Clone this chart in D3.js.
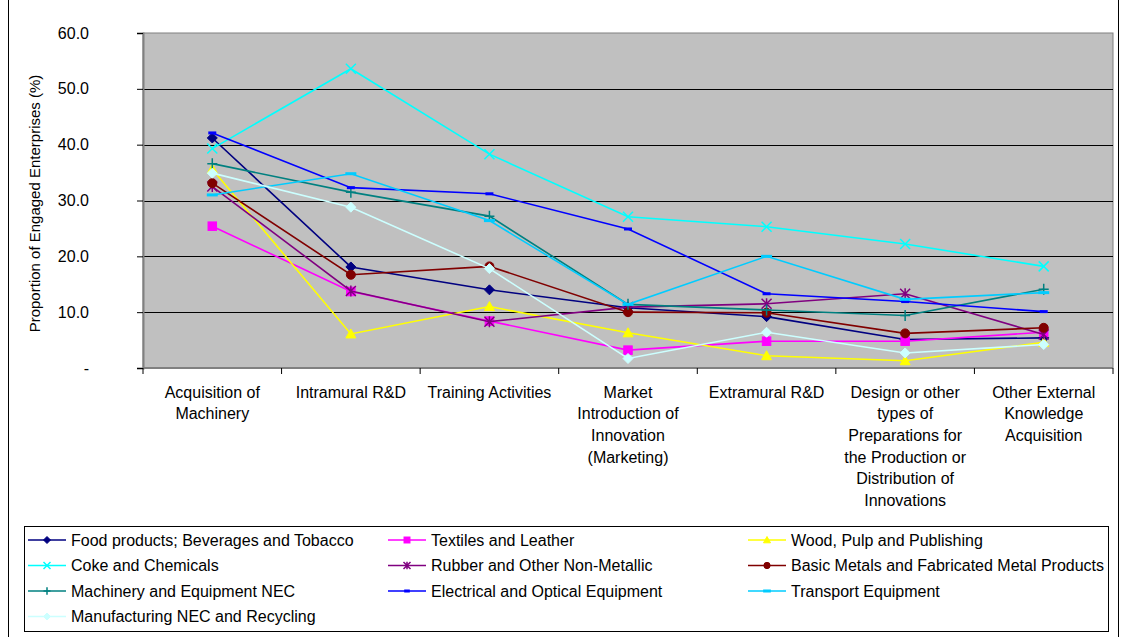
<!DOCTYPE html>
<html>
<head>
<meta charset="utf-8">
<script src="https://cdn.jsdelivr.net/npm/d3@7"></script>
<style>
  html, body { margin: 0; padding: 0; background: #ffffff; }
  svg { display: block; font-family: Arial, "Liberation Sans", sans-serif; }
</style>
</head>
<body>
<svg id="chart" width="1121" height="637"></svg>
<script>
// Innovation activities (line breaks are where each label wraps)
const categories = [
  "Acquisition of\nMachinery",
  "Intramural R&D",
  "Training Activities",
  "Market\nIntroduction of\nInnovation\n(Marketing)",
  "Extramural R&D",
  "Design or other\ntypes of\nPreparations for\nthe Production or\nDistribution of\nInnovations",
  "Other External\nKnowledge\nAcquisition"
];

const yTicks = [0, 10, 20, 30, 40, 50, 60];
const yTickLabels = ["-", "10.0", "20.0", "30.0", "40.0", "50.0", "60.0"];

// Share of enterprises engaged in each activity (%), by industry
const foodBeverages   = [41.2, 18.1, 14.0, 10.8, 9.2, 5.1, 5.4];
const textiles        = [25.4, 13.7, 8.4, 3.2, 4.8, 4.8, 6.4];
const woodPulp        = [35.6, 6.1, 11.0, 6.3, 2.2, 1.3, 4.6];
const cokeChemicals   = [39.3, 53.6, 38.3, 27.1, 25.3, 22.2, 18.2];
const rubberNonMetal  = [32.5, 13.8, 8.3, 10.9, 11.5, 13.3, 6.0];
const basicMetals     = [33.1, 16.7, 18.2, 10.0, 9.9, 6.2, 7.2];
const machinery       = [36.6, 31.5, 27.2, 11.4, 10.4, 9.4, 14.1];
const electrical      = [42.1, 32.3, 31.2, 24.9, 13.3, 11.9, 10.1];
const transport       = [31.0, 34.8, 26.4, 11.4, 20.0, 12.3, 13.5];
const manufRecycling  = [34.9, 28.8, 17.8, 1.7, 6.4, 2.7, 4.2];

const series = [
  { name: "Food products; Beverages and Tobacco", values: foodBeverages, color: "#000080", marker: "diamond" },
  { name: "Textiles and Leather", values: textiles, color: "#FF00FF", marker: "square" },
  { name: "Wood, Pulp and Publishing", values: woodPulp, color: "#FFFF00", marker: "triangle" },
  { name: "Coke and Chemicals", values: cokeChemicals, color: "#00FFFF", marker: "x" },
  { name: "Rubber and Other Non-Metallic", values: rubberNonMetal, color: "#800080", marker: "asterisk" },
  { name: "Basic Metals and Fabricated Metal Products", values: basicMetals, color: "#800000", marker: "circle" },
  { name: "Machinery and Equipment NEC", values: machinery, color: "#008080", marker: "plus" },
  { name: "Electrical and Optical Equipment", values: electrical, color: "#0000FF", marker: "shortdash" },
  { name: "Transport Equipment", values: transport, color: "#00CCFF", marker: "longdash" },
  { name: "Manufacturing NEC and Recycling", values: manufRecycling, color: "#CCFFFF", marker: "diamond" }
];

const FONT = 16;
const svg = d3.select("#chart");
const W = 1121, H = 637;
const plot = { left: 143, right: 1113, top: 33, bottom: 368 };

// Outer chart frame
svg.append("rect")
  .attr("x", 8.5).attr("y", -1).attr("width", 1110).attr("height", H + 2)
  .attr("fill", "#ffffff").attr("stroke", "#000000").attr("stroke-width", 1);

const x = d3.scaleBand().domain(d3.range(categories.length)).range([plot.left, plot.right]).paddingInner(0).paddingOuter(0);
const y = d3.scaleLinear().domain([0, 60]).range([plot.bottom, plot.top]);
const cx = i => x(i) + x.bandwidth() / 2;

// Plot area
svg.append("rect")
  .attr("x", plot.left).attr("y", plot.top)
  .attr("width", plot.right - plot.left).attr("height", plot.bottom - plot.top)
  .attr("fill", "#C0C0C0").attr("stroke", "#808080").attr("stroke-width", 1);

// Horizontal gridlines
svg.append("g").selectAll("line")
  .data(yTicks.filter(t => t > 0 && t < 60))
  .join("line")
  .attr("x1", plot.left).attr("x2", plot.right)
  .attr("y1", d => Math.round(y(d)) + 0.5).attr("y2", d => Math.round(y(d)) + 0.5)
  .attr("stroke", "#000000").attr("stroke-width", 1);

// Y axis
const yAxis = d3.axisLeft(y).tickValues(yTicks).tickSize(6).tickPadding(48)
  .tickFormat((d, i) => yTickLabels[i]);
const gy = svg.append("g").attr("transform", `translate(${plot.left},0)`).call(yAxis);
gy.select(".domain").attr("stroke", "#808080").attr("stroke-width", 2);
gy.selectAll(".tick line").attr("stroke", "#000000");
gy.selectAll(".tick text").attr("font-size", FONT).attr("fill", "#000000")
  .attr("font-family", "Arial, 'Liberation Sans', sans-serif");

// X axis with ticks at category boundaries
const gx = svg.append("g").attr("transform", `translate(0,${plot.bottom})`);
gx.append("line").attr("x1", plot.left).attr("x2", plot.right).attr("y1", 0).attr("y2", 0)
  .attr("stroke", "#808080").attr("stroke-width", 2);
gx.selectAll("line.tick")
  .data(d3.range(categories.length + 1))
  .join("line").attr("class", "tick")
  .attr("x1", i => i < categories.length ? x(i) : plot.right)
  .attr("x2", i => i < categories.length ? x(i) : plot.right)
  .attr("y1", 0).attr("y2", 6).attr("stroke", "#000000");

const xl = svg.append("g");
categories.forEach((c, i) => {
  const t = xl.append("text").attr("text-anchor", "middle").attr("font-size", FONT).attr("fill", "#000");
  c.split("\n").forEach((line, k) => {
    t.append("tspan").attr("x", cx(i)).attr("y", 397.5 + k * 21.7).text(line);
  });
});

// Y axis title
svg.append("text")
  .attr("transform", `translate(40,203.5) rotate(-90)`)
  .attr("text-anchor", "middle").attr("font-size", 15).attr("fill", "#000")
  .text("Proportion of Engaged Enterprises (%)");

// Marker drawing
function drawMarker(g, type, color, s) {
  switch (type) {
    case "diamond":
      g.append("path").attr("d", `M0,${-s}L${s},0L0,${s}L${-s},0Z`).attr("fill", color).attr("stroke", color);
      break;
    case "square":
      g.append("rect").attr("x", -s * 0.85).attr("y", -s * 0.85).attr("width", s * 1.7).attr("height", s * 1.7)
        .attr("fill", color).attr("stroke", color);
      break;
    case "triangle":
      g.append("path").attr("d", `M0,${-s}L${s},${s * 0.8}L${-s},${s * 0.8}Z`).attr("fill", color).attr("stroke", color);
      break;
    case "circle":
      g.append("circle").attr("r", s * 0.9).attr("fill", color).attr("stroke", color);
      break;
    case "x":
      g.append("path").attr("d", `M${-s},${-s}L${s},${s}M${-s},${s}L${s},${-s}`).attr("stroke", color).attr("stroke-width", 1.5).attr("fill", "none");
      break;
    case "asterisk":
      g.append("path").attr("d", `M${-s},${-s}L${s},${s}M${-s},${s}L${s},${-s}M0,${-s * 1.1}L0,${s * 1.1}`).attr("stroke", color).attr("stroke-width", 1.5).attr("fill", "none");
      break;
    case "plus":
      g.append("path").attr("d", `M${-s},0L${s},0M0,${-s * 1.1}L0,${s * 1.1}`).attr("stroke", color).attr("stroke-width", 1.5).attr("fill", "none");
      break;
    case "shortdash":
      g.append("rect").attr("x", -s * 0.8).attr("y", -1.5).attr("width", s * 1.6).attr("height", 3).attr("fill", color);
      break;
    case "longdash":
      g.append("rect").attr("x", -s * 1.1).attr("y", -1.5).attr("width", s * 2.2).attr("height", 3).attr("fill", color);
      break;
  }
}

// Series lines and markers
const line = d3.line().x((d, i) => cx(i)).y(d => y(d));
const lines = svg.append("g");
series.forEach(s => {
  const g = lines.append("g");
  g.append("path").attr("d", line(s.values)).attr("fill", "none")
    .attr("stroke", s.color).attr("stroke-width", 1.6);
  s.values.forEach((v, i) => {
    const m = g.append("g").attr("transform", `translate(${cx(i)},${y(v)})`);
    drawMarker(m, s.marker, s.color, 5);
  });
});

// Legend
const legend = svg.append("g");
legend.append("rect").attr("x", 24.5).attr("y", 526.5).attr("width", 1084).attr("height", 105)
  .attr("fill", "#ffffff").attr("stroke", "#000000").attr("stroke-width", 1);
const colX = [28, 388, 748];
const rowY = [540, 565.5, 591, 616.5];
series.forEach((s, i) => {
  const col = i % 3, row = Math.floor(i / 3);
  const g = legend.append("g").attr("transform", `translate(${colX[col]},${rowY[row]})`);
  g.append("line").attr("x1", 0).attr("x2", 38).attr("y1", 0).attr("y2", 0)
    .attr("stroke", s.color).attr("stroke-width", 1.6);
  const m = g.append("g").attr("transform", "translate(19,0)");
  drawMarker(m, s.marker, s.color, 3.5);
  g.append("text").attr("x", 43).attr("y", 5.5).attr("font-size", FONT).attr("fill", "#000").text(s.name);
});
</script>
</body>
</html>
